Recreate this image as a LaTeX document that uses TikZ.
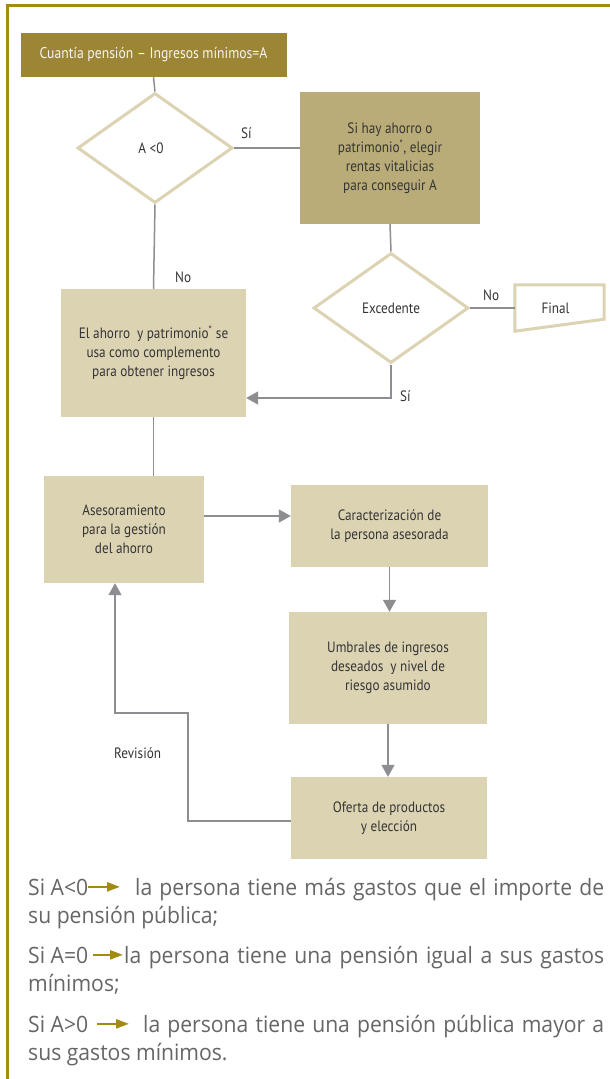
\documentclass[tikz,border=0pt]{standalone}
\usepackage{fontspec}
\setmainfont{PT Sans}
\newfontfamily\cf[FakeStretch=0.88]{PT Sans}
\newfontfamily\lowfont[FakeStretch=0.94]{Open Sans}
\usetikzlibrary{shapes.geometric,arrows.meta}
\definecolor{frameGold}{HTML}{A68B12}
\definecolor{darkOlive}{HTML}{9C8636}
\definecolor{midOlive}{HTML}{B9AC78}
\definecolor{lightOlive}{HTML}{DCD3B3}
\definecolor{lineGray}{HTML}{8E8E92}
\definecolor{textDark}{HTML}{353535}
\definecolor{textGray}{HTML}{666666}
\definecolor{arrGold}{HTML}{A38A12}
\tikzset{
  box/.style={rectangle, inner sep=0pt, align=center, text=textDark,
    font=\cf\fontsize{15}{19}\selectfont},
  dec/.style={diamond, draw=lightOlive, line width=3pt, inner sep=0pt,
    minimum width=155pt, minimum height=110pt, text=textDark,
    font=\cf\fontsize{15}{19}\selectfont},
  conn/.style={draw=lineGray, line width=1.5pt},
  arr/.style={conn, -{Triangle[length=12pt,width=13pt,fill=lineGray]}},
  lbl/.style={inner sep=0pt, text=textDark, font=\cf\fontsize{15}{17}\selectfont},
  low/.style={inner sep=0pt, anchor=base west, text=textGray,
    font=\lowfont\fontsize{22.5}{27}\selectfont},
  garr/.style={draw=arrGold, line width=2.4pt, -{Triangle[length=13pt,width=9pt]}}
}
\begin{document}
\begin{tikzpicture}[x=1pt,y=-1pt]
\useasboundingbox (0,0) rectangle (610,1079);
\fill[white] (0,0) rectangle (610,1079);
% frame
\draw[frameGold, line width=3pt] (7,1079) -- (7,5) -- (610,5);

% nodes
\node[box, fill=darkOlive, minimum width=266pt, minimum height=44pt, text=white!92!darkOlive,
      font=\cf\fontsize{15.5}{18}\selectfont] (top) at (153.5,55) {Cuantía pensión – Ingresos mínimos=A};
\node[dec] (d1) at (155,148) {A <0\hspace*{8pt}};
\node[box, fill=midOlive, minimum width=180pt, minimum height=132pt] (r1) at (390,158)
  {Si hay ahorro o\\patrimonio\textsuperscript{*}, elegir\\rentas vitalicias\\para conseguir A};
\node[dec] (d2) at (391,308) {Excedente};
\node[box, minimum width=89pt, minimum height=46pt] (final) at (559.5,308) {Final\hspace*{8pt}};
\draw[lightOlive, line width=3pt] (final.north west) -- (final.north east)
  -- ([yshift=12pt]final.south east) -- (final.south west) -- cycle;
\node[box, fill=lightOlive, minimum width=185pt, minimum height=128pt] (b2) at (153.5,353)
  {El ahorro \ y patrimonio\textsuperscript{*} se\\usa como complemento\\para obtener ingresos};
\node[box, fill=lightOlive, minimum width=160pt, minimum height=107pt] (b3) at (124,529.5)
  {Asesoramiento\\para la gestión\\del ahorro};
\node[box, fill=lightOlive, minimum width=197pt, minimum height=82pt] (b4) at (389.5,526)
  {Caracterización de\\la persona asesorada};
\node[box, fill=lightOlive, minimum width=198pt, minimum height=112pt] (b5) at (388,668)
  {Umbrales de ingresos\\deseados \ y nivel de\\riesgo asumido};
\node[box, fill=lightOlive, minimum width=196pt, minimum height=82pt] (b6) at (389,818)
  {Oferta de productos\\y elección};

% connectors
\draw[conn] (top.south) -- (d1.north);
\draw[conn] (d1.east) -- (d1.east -| r1.west);
\node[lbl, anchor=west] (si1) at (241,133) {Sí};
\draw[conn] (r1.south) -- (d2.north);
\draw[conn] (d2.east) -- (final.west);
\node[lbl, anchor=west] (no2) at (483,295) {No};
\draw[conn] (d1.south) -- (b2.north);
\node[lbl, anchor=west] (no1) at (175,277) {No};
\coordinate (c1) at (391,398);
\draw[arr] (d2.south) -- (c1) -- (c1 -| b2.east);
\node[lbl, anchor=west] (si2) at (400,396) {Sí};
\draw[conn] (b2.south) -- (b2.south |- b3.north);
\draw[arr] ([yshift=13.5pt]b3.east) -- ([yshift=13.5pt]b3.east -| b4.west);
\draw[arr] (b4.south) -- (b4.south |- b5.north);
\draw[arr] (b5.south) -- (b5.south |- b6.north);
\coordinate (rv) at (188,713);
\draw[arr] ([yshift=-3pt]b6.west) -| (rv) -| ([xshift=-9pt]b3.south);
\node[lbl, anchor=west] (rev) at (114,753) {Revisión};

% bottom notes
\node[low] (l1a) at (28,895) {Si A<0};
\node[low] (l1b) at (135,895) {\makebox[469pt][s]{la persona tiene más gastos que el importe de}};
\node[low] (l2) at (28,923) {su pensión pública;};
\node[low] (l3a) at (28,963) {Si A=0};
\node[low] (l3b) at (124,963) {\makebox[480pt][s]{la persona tiene una pensión igual a sus gastos}};
\node[low] (l4) at (28,991) {mínimos;};
\node[low] (l5a) at (28,1032) {Si A>0};
\node[low] (l5b) at (143,1032) {\makebox[461pt][s]{la persona tiene una pensión pública mayor a}};
\node[low] (l6) at (28,1060) {sus gastos mínimos.};
\draw[garr] (l1a.east) -- ([xshift=-15pt]l1a.east -| l1b.west);
\draw[garr] ([xshift=5pt]l3a.east) -- ([xshift=-1pt]l3a.east -| l3b.west);
\draw[garr] ([xshift=9pt]l5a.east) -- ([xshift=-14pt]l5a.east -| l5b.west);
\end{tikzpicture}
\end{document}
